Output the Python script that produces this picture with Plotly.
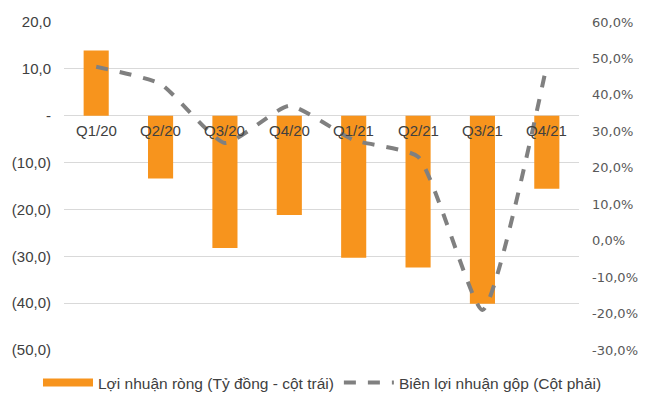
import plotly.graph_objects as go

categories = ["Q1/20", "Q2/20", "Q3/20", "Q4/20", "Q1/21", "Q2/21", "Q3/21", "Q4/21"]
net_profit = [13.9, -13.4, -28.2, -21.2, -30.3, -32.4, -40.1, -15.6]
gross_margin = [47.7, 43.0, 26.8, 37.0, 27.6, 23.0, -19.0, 48.2]

left_vals = [20, 10, 0, -10, -20, -30, -40, -50]
left_text = ["20,0", "10,0", "-", "(10,0)", "(20,0)", "(30,0)", "(40,0)", "(50,0)"]
right_vals = [60, 50, 40, 30, 20, 10, 0, -10, -20, -30]
right_text = ["60,0%", "50,0%", "40,0%", "30,0%", "20,0%", "10,0%", "0,0%", "-10,0%", "-20,0%", "-30,0%"]

bar_name = "Lợi nhuận ròng (Tỷ đồng - cột trái)"
line_name = "Biên lợi nhuận gộp (Cột phải)"

font_color = "#404040"
orange = "#F7941D"
gray = "#808080"

fig = go.Figure()
fig.add_trace(go.Bar(x=categories, y=net_profit, name=bar_name, showlegend=False,
                     marker=dict(color=orange, line=dict(width=0)), width=0.39))
# legend key for bars (wide rectangle like the reference)
fig.add_trace(go.Scatter(x=[None], y=[None], name=bar_name, mode="lines",
                         line=dict(color=orange, width=8)))
fig.add_trace(go.Scatter(x=categories, y=gross_margin, name=line_name, yaxis="y2",
                         mode="lines", line=dict(color=gray, width=4, dash="dash",
                                                  shape="spline", smoothing=0.5)))

for c in categories:
    fig.add_annotation(x=c, y=0, yref="y", text=c, showarrow=False, yanchor="top",
                       yshift=-4, font=dict(size=15, color=font_color,
                                            family="Liberation Sans, Arial, sans-serif"))

pad_l = 0.2
pad_r = pad_l * 90 / 70
fig.update_layout(
    width=652, height=386,
    margin=dict(l=56, r=81, t=13, b=43, autoexpand=False),
    paper_bgcolor="white", plot_bgcolor="white",
    font=dict(family="Liberation Sans, Arial, sans-serif", size=15, color=font_color),
    bargap=0.61,
    showlegend=True,
    legend=dict(orientation="h", x=-0.0505, xanchor="left", y=-0.097, yanchor="middle",
                itemwidth=50, traceorder="normal",
                font=dict(size=15.5, color=font_color,
                          family="Liberation Sans, Arial, sans-serif")),
    xaxis=dict(showticklabels=False, showgrid=False, zeroline=False, showline=False,
               range=[-0.5, 7.5]),
    yaxis=dict(range=[-50 - pad_l, 20 + pad_l], tickvals=left_vals, ticktext=left_text,
               showgrid=True, gridcolor="#D9D9D9", gridwidth=1, zeroline=True,
               zerolinecolor="#D9D9D9", zerolinewidth=1, ticks="", ticklabelstandoff=12,
               tickfont=dict(size=15)),
    yaxis2=dict(range=[-30 - pad_r, 60 + pad_r], tickvals=right_vals, ticktext=right_text,
                overlaying="y", side="right", showgrid=False, zeroline=False,
                ticks="", ticklabelstandoff=12,
                tickfont=dict(size=13, family="DejaVu Sans, Verdana, sans-serif",
                              color="#595959")),
)

fig.write_html("out.html")
